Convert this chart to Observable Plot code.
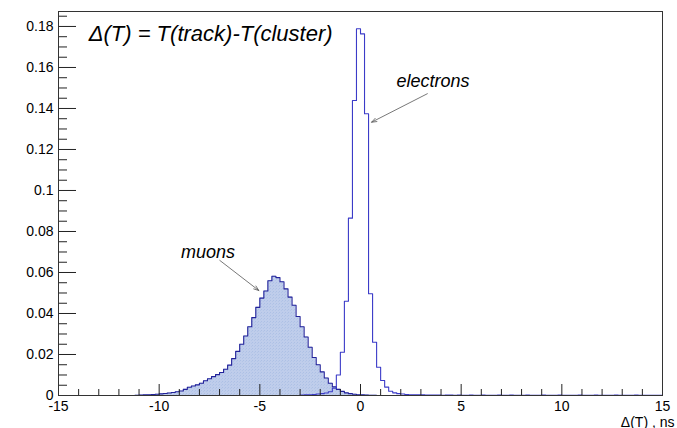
<!DOCTYPE html>
<html><head><meta charset="utf-8">
<script src="https://cdn.jsdelivr.net/npm/d3@7"></script>
<script src="https://cdn.jsdelivr.net/npm/@observablehq/plot@0.6"></script>
<style>
html,body{margin:0;padding:0;background:#fff;}
#chart{width:677px;height:428px;}
</style></head><body>
<svg width="0" height="0" style="position:absolute"><defs>
<pattern id="hatch" width="3" height="3" patternUnits="userSpaceOnUse">
<rect width="3" height="3" fill="#bfcdeb"/>
<rect x="0" y="0" width="1" height="1" fill="#adc0e5"/>
<rect x="2" y="1" width="1" height="1" fill="#b3c5e7"/>
</pattern></defs></svg>
<div id="chart"></div>
<script>
// ---- data ----
const binWidth = 0.2;
const xRange = [-15, 15];
const muonStart = -11.2;
const muonValues = [
  0.0001, 0.0002, 0.0003, 0.0004, 0.0005, 0.0006, 0.0008, 0.0010, 0.0012, 0.0015,
  0.0018, 0.0022, 0.0030, 0.0040, 0.0046, 0.0052, 0.0060, 0.0072, 0.0082, 0.0092,
  0.0102, 0.0112, 0.0128, 0.0148, 0.0180, 0.0215, 0.0250, 0.0290, 0.0335, 0.0380,
  0.0430, 0.0475, 0.0510, 0.0560, 0.0582, 0.0575, 0.0555, 0.0520, 0.0480, 0.0440,
  0.0385, 0.0335, 0.0285, 0.0235, 0.0185, 0.0150, 0.0115, 0.0085, 0.0060, 0.0042,
  0.0030, 0.0020, 0.0013, 0.0009, 0.0006, 0.0004, 0.0003, 0.0002, 0.0001, 0.0001
];
const electronStart = -3.0;
const electronValues = [
  0.0002, 0.0003, 0.0004, 0.0005, 0.0007, 0.0009, 0.0012, 0.0018, 0.0035, 0.0100,
  0.0211, 0.0460, 0.0865, 0.1439, 0.1789, 0.1764, 0.1374, 0.0496, 0.0260, 0.0138,
  0.0073, 0.0041, 0.0021, 0.0013, 0.0009, 0.0007, 0.0005, 0.0004, 0.0003, 0.0003,
  0.0003, 0.0002, 0.0002, 0.0002, 0.0002, 0.0001, 0.0002, 0.0002, 0.0001, 0.0002,
  0.0001, 0.0001, 0.0002, 0.0001, 0.0001, 0.0002, 0.0001, 0.0001, 0.0001, 0.0002,
  0.0001, 0.0001, 0.0002, 0.0001, 0.0001, 0.0001, 0.0002, 0.0001, 0.0001, 0.0001,
  0.0002, 0.0001, 0.0001, 0.0001, 0.0002, 0.0001, 0.0001, 0.0001, 0.0001, 0.0002,
  0.0001, 0.0001, 0.0001, 0.0002, 0.0001, 0.0001, 0.0001, 0.0001, 0.0002, 0.0001,
  0.0001, 0.0001, 0.0001, 0.0002, 0.0001, 0.0001, 0.0001, 0.0001, 0.0001, 0.0001
];
const xMajorTicks = [-15, -10, -5, 0, 5, 10, 15];
const xMinorTicks = [-14, -13, -12, -11, -9, -8, -7, -6, -4, -3, -2, -1, 1, 2, 3, 4, 6, 7, 8, 9, 11, 12, 13, 14];
const yMajorTicks = [0, 0.02, 0.04, 0.06, 0.08, 0.1, 0.12, 0.14, 0.16, 0.18];
const yMinorTicks = [0.005, 0.01, 0.015, 0.025, 0.03, 0.035, 0.045, 0.05, 0.055, 0.065, 0.07, 0.075,
  0.085, 0.09, 0.095, 0.105, 0.11, 0.115, 0.125, 0.13, 0.135, 0.145, 0.15, 0.155, 0.165, 0.17, 0.175, 0.185];
const yMax = 0.1873;
const titleText = ["Δ(T) = T(track)-T(cluster)"];
const titlePos = {x: -13.5, y: 0.1765};
const xLabel = "Δ(T) , ns";
const annotations = [
  {text: "electrons", x: 3.6, y: 0.1533},
  {text: "muons", x: -7.57, y: 0.0699}
];
const arrows = [
  {x1: 3.32, y1: 0.1472, x2: 0.55, y2: 0.1333},
  {x1: -6.99, y1: 0.0659, x2: -5.05, y2: 0.0512}
];

// ---- build step points ----
function histPoints(start, values) {
  const n = Math.round((xRange[1] - xRange[0]) / binWidth);
  const i0 = Math.round((start - xRange[0]) / binWidth);
  const pts = [];
  for (let i = 0; i < n; i++) {
    const k = i - i0;
    const v = (k >= 0 && k < values.length) ? values[k] : 0;
    pts.push({x: xRange[0] + i * binWidth, y: v});
  }
  pts.push({x: xRange[1], y: pts[pts.length - 1].y});
  return pts;
}
const muonPts = histPoints(muonStart, muonValues);
const elecPts = histPoints(electronStart, electronValues);

const W = 677, H = 428, mL = 58, mR = 15, mT = 11, mB = 33;
const fw = W - mL - mR, fh = H - mT - mB;
const font = "'Liberation Sans', Arial, Helvetica, sans-serif";

const chart = Plot.plot({
  width: W, height: H,
  marginLeft: mL, marginRight: mR, marginTop: mT, marginBottom: mB,
  style: {fontFamily: font, fontSize: "14px", background: "white", color: "black"},
  x: {domain: xRange},
  y: {domain: [0, yMax]},
  marks: [
    Plot.areaY(muonPts, {x: "x", y: "y", curve: "step-after", fill: "url(#hatch)"}),
    Plot.lineY(muonPts, {x: "x", y: "y", curve: "step-after", stroke: "#22229a", strokeWidth: 1.1}),
    Plot.lineY(elecPts, {x: "x", y: "y", curve: "step-after", stroke: "#3b3bc8", strokeWidth: 1.1}),
    Plot.tickX(xMajorTicks, {x: d => d, insetTop: fh - 11, stroke: "#222"}),
    Plot.tickX(xMinorTicks, {x: d => d, insetTop: fh - 6, stroke: "#222"}),
    Plot.tickY(yMajorTicks, {y: d => d, insetRight: fw - 18, stroke: "#222"}),
    Plot.tickY(yMinorTicks, {y: d => d, insetRight: fw - 9, stroke: "#222"}),
    Plot.axisX({ticks: xMajorTicks, tickSize: 0, tickPadding: 6, tickFormat: d => String(d),
      label: xLabel, labelAnchor: "right", labelOffset: 31, labelArrow: "none", fontSize: 14}),
    Plot.axisY({ticks: yMajorTicks, tickSize: 0, tickPadding: 5, tickFormat: d => String(+d.toFixed(2)),
      label: null, fontSize: 14}),
    Plot.frame({stroke: "#333"}),
    Plot.text(titleText, {x: () => titlePos.x, y: () => titlePos.y, text: d => d, textAnchor: "start",
      fontSize: 22, fontStyle: "italic", fill: "black"}),
    Plot.text(annotations, {x: "x", y: "y", text: "text", fontSize: 18, fontStyle: "italic", fill: "black"}),
    Plot.arrow(arrows, {x1: "x1", y1: "y1", x2: "x2", y2: "y2", stroke: "#555", strokeWidth: 0.8,
      headLength: 10, headAngle: 40})
  ]
});
document.getElementById("chart").appendChild(chart);
</script>
</body></html>
